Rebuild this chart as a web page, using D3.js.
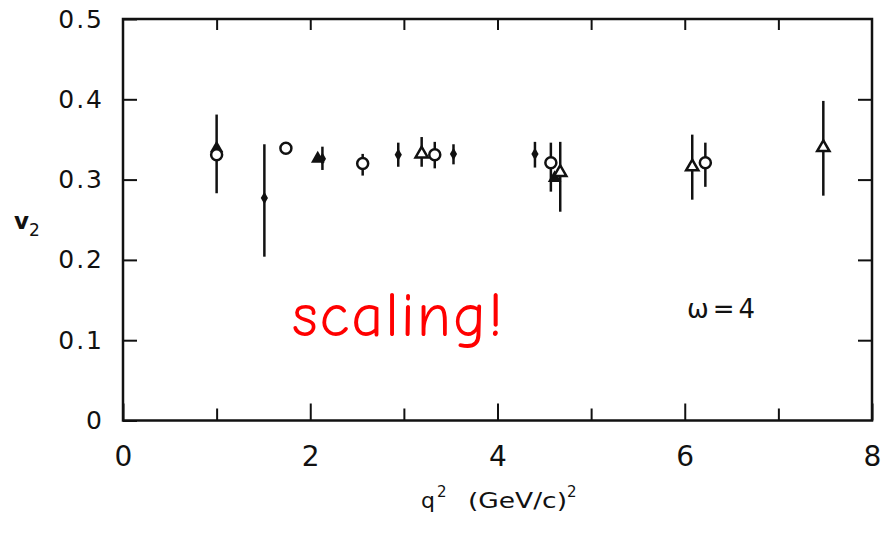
<!DOCTYPE html>
<html>
<head>
    <title>v2 vs q2 - scaling</title>
    <script src="https://d3js.org/d3.v7.min.js"></script>
    <style>
        body { margin: 0; background: #fff; }
        text { font-family: "DejaVu Sans", "Open Sans", sans-serif; }
    </style>
</head>
<body>
<div id="chart"></div>
<script>
    const width = 895, height = 533;

    // open circles
    const circleQ  = [1.00, 1.74, 2.56, 3.33, 4.57, 6.22];
    const circleV  = [0.331, 0.339, 0.320, 0.331, 0.321, 0.321];
    const circleLo = [0.283, 0.339, 0.305, 0.314, 0.285, 0.291];
    const circleHi = [0.381, 0.339, 0.332, 0.347, 0.346, 0.346];

    // open triangles
    const triQ  = [3.19, 4.67, 6.08, 7.48];
    const triV  = [0.332, 0.309, 0.316, 0.340];
    const triLo = [0.316, 0.260, 0.275, 0.280];
    const triHi = [0.353, 0.347, 0.356, 0.398];

    // small filled crosses
    const crossQ  = [1.51, 2.13, 2.94, 3.53, 4.40];
    const crossV  = [0.277, 0.326, 0.331, 0.332, 0.332];
    const crossLo = [0.204, 0.312, 0.316, 0.319, 0.315];
    const crossHi = [0.344, 0.341, 0.346, 0.344, 0.347];

    // filled triangles (no own error bars)
    const ftriQ = [1.00, 2.08, 4.61];
    const ftriV = [0.339, 0.326, 0.302];

    const xTicksMajor = [0, 2, 4, 6, 8];
    const xTicksMinor = [1, 3, 5, 7];
    const yTicks = [0, 0.1, 0.2, 0.3, 0.4, 0.5];

    const x = d3.scaleLinear().domain([0, 8]).range([123, 872]);
    const y = d3.scaleLinear().domain([0, 0.5]).range([420.5, 19]);

    const svg = d3.select("#chart").append("svg")
        .attr("width", width)
        .attr("height", height);

    function clean(size) {
        return g => {
            g.select(".domain").remove();
            g.selectAll("line").attr("stroke", "#111").attr("stroke-width", 2);
            g.selectAll("text").attr("fill", "#111").style("font-size", size + "px");
        };
    }

    // bottom axis: labelled major ticks + minor ticks
    svg.append("g")
        .attr("transform", "translate(0," + y(0) + ")")
        .call(d3.axisBottom(x).tickValues(xTicksMajor).tickSize(-17).tickPadding(26))
        .call(clean(28));
    svg.append("g")
        .attr("transform", "translate(0," + y(0) + ")")
        .call(d3.axisBottom(x).tickValues(xTicksMinor).tickSize(-12).tickFormat(""))
        .call(clean(28));
    // top axis
    svg.append("g")
        .attr("transform", "translate(0," + y(0.5) + ")")
        .call(d3.axisTop(x).tickValues(xTicksMajor.concat(xTicksMinor).filter(d => d > 0 && d < 8)).tickSize(-11).tickFormat(""))
        .call(clean(28));
    // left axis
    svg.append("g")
        .attr("transform", "translate(" + x(0) + ",0)")
        .call(d3.axisLeft(y).tickValues(yTicks).tickSize(-14).tickPadding(19)
            .tickFormat(d => d === 0 ? "0" : d.toFixed(1)))
        .call(clean(25))
        .selectAll("text").style("letter-spacing", "2px");
    // right axis
    svg.append("g")
        .attr("transform", "translate(" + x(8) + ",0)")
        .call(d3.axisRight(y).tickValues(yTicks.filter(d => d > 0 && d < 0.5)).tickSize(-14).tickFormat(""))
        .call(clean(25));

    // frame
    svg.append("rect")
        .attr("x", x(0)).attr("y", y(0.5))
        .attr("width", x(8) - x(0)).attr("height", y(0) - y(0.5))
        .attr("fill", "none").attr("stroke", "#111").attr("stroke-width", 2.5);

    // axis titles
    const yl = svg.append("text")
        .attr("x", 14).attr("y", 229)
        .style("font-size", "23px").style("font-weight", "bold").attr("fill", "#111");
    yl.append("tspan").text("v");
    yl.append("tspan").attr("dy", 7).style("font-size", "17px").style("font-weight", "normal").text("2");

    const xl = svg.append("text")
        .attr("y", 508)
        .style("font-size", "22px").attr("fill", "#111");
    xl.append("tspan").attr("x", 421).text("q");
    xl.append("tspan").attr("x", 437).attr("dy", -11).style("font-size", "15px").text("2");
    xl.append("tspan").attr("x", 468).attr("dy", 11)
        .attr("textLength", 99).attr("lengthAdjust", "spacingAndGlyphs").text("(GeV/c)");
    xl.append("tspan").attr("x", 567).attr("dy", -11).style("font-size", "15px").text("2");

    // error bars
    function bars(qs, lo, hi) {
        svg.append("g").selectAll("line")
            .data(qs.map((q, i) => ({ q: q, lo: lo[i], hi: hi[i] })))
            .enter().append("line")
            .attr("x1", d => x(d.q)).attr("x2", d => x(d.q))
            .attr("y1", d => y(d.lo)).attr("y2", d => y(d.hi))
            .attr("stroke", "#111").attr("stroke-width", 2.5);
    }
    bars(circleQ, circleLo, circleHi);
    bars(triQ, triLo, triHi);
    bars(crossQ, crossLo, crossHi);

    // filled triangles
    svg.append("g").selectAll("path")
        .data(ftriQ.map((q, i) => ({ q: q, v: ftriV[i] })))
        .enter().append("path")
        .attr("transform", d => "translate(" + x(d.q) + "," + y(d.v) + ")")
        .attr("d", d3.symbol().type(d3.symbolTriangle).size(80))
        .attr("fill", "#111");

    // small filled crosses
    svg.append("g").selectAll("path")
        .data(crossQ.map((q, i) => ({ q: q, v: crossV[i] })))
        .enter().append("path")
        .attr("transform", d => "translate(" + x(d.q) + "," + y(d.v) + ")")
        .attr("d", d3.symbol().type(d3.symbolDiamond).size(45))
        .attr("fill", "#111");

    // open circles
    svg.append("g").selectAll("circle")
        .data(circleQ.map((q, i) => ({ q: q, v: circleV[i] })))
        .enter().append("circle")
        .attr("cx", d => x(d.q)).attr("cy", d => y(d.v))
        .attr("r", 5.5)
        .attr("fill", "#fff").attr("stroke", "#111").attr("stroke-width", 2.5);

    // open triangles
    svg.append("g").selectAll("path")
        .data(triQ.map((q, i) => ({ q: q, v: triV[i] })))
        .enter().append("path")
        .attr("transform", d => "translate(" + x(d.q) + "," + y(d.v) + ")")
        .attr("d", d3.symbol().type(d3.symbolTriangle).size(65))
        .attr("fill", "#fff").attr("stroke", "#111").attr("stroke-width", 2.5);

    // annotations
    svg.append("text")
        .attr("x", 292).attr("y", 336)
        .attr("textLength", 211)
        .style("font-size", "62px")
        .style("font-family", "'Comic Sans MS', 'Comic Neue', 'Open Sans', sans-serif")
        .attr("fill", "#f00")
        .text("scaling!");

    svg.append("text")
        .attr("x", 687).attr("y", 318)
        .attr("textLength", 68)
        .style("font-size", "26px")
        .attr("fill", "#111")
        .text("\u03c9 = 4");
</script>
</body>
</html>
